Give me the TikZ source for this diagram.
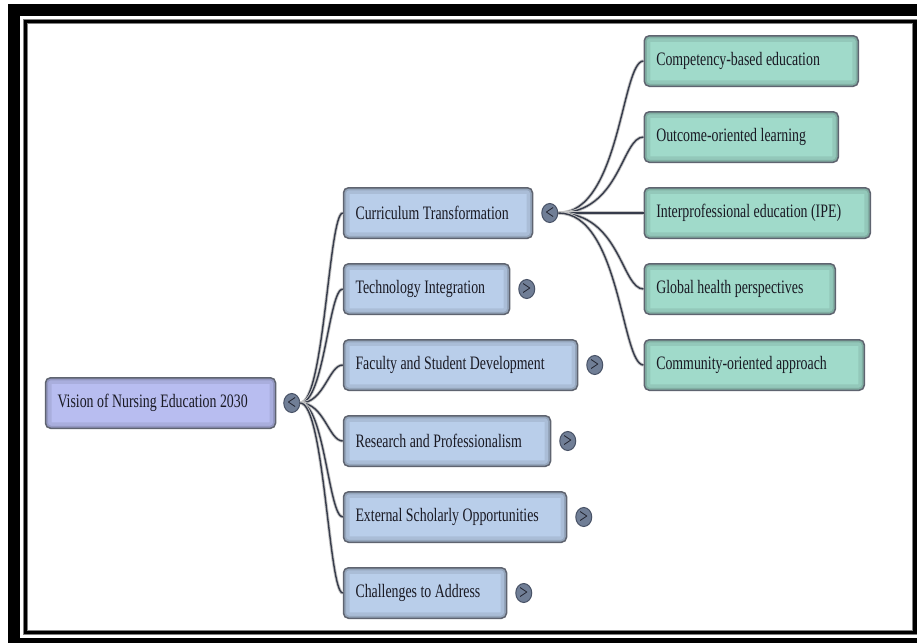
\documentclass[tikz,border=0pt]{standalone}
\usepackage{fontspec}
\setmainfont[FakeStretch=0.73]{Liberation Serif}
\usepackage{tikz}
\usetikzlibrary{shapes.geometric}
\usetikzlibrary{positioning}

\definecolor{rootfill}{RGB}{184,189,240}
\definecolor{topicfill}{RGB}{185,206,234}
\definecolor{leaffill}{RGB}{160,218,202}
\definecolor{boxedge}{RGB}{95,100,112}
\definecolor{textdark}{RGB}{25,25,35}
\definecolor{linkdark}{RGB}{55,60,75}
\definecolor{togglefill}{RGB}{112,126,150}
\definecolor{toggleedge}{RGB}{72,82,102}

\newcommand{\mapfont}{\fontsize{19}{22}\selectfont}
\newcommand{\togglefont}{\fontsize{21}{21}\selectfont}

\tikzset{
	mapbox/.style={draw=boxedge, line width=1.5pt, rounded corners=5pt, anchor=west,
		minimum height=50.5pt, inner xsep=12pt, inner ysep=0pt, align=flush left,
		font=\mapfont, text=textdark,
		path picture={
			\draw[black, opacity=0.08, line width=12pt] (path picture bounding box.south west) rectangle (path picture bounding box.north east);
			\draw[black, opacity=0.12, line width=5pt] (path picture bounding box.south west) rectangle (path picture bounding box.north east);
		}},
	rootbox/.style={mapbox, fill=rootfill},
	topicbox/.style={mapbox, fill=topicfill},
	leafbox/.style={mapbox, fill=leaffill},
	toggle/.style={ellipse, draw=toggleedge, line width=1pt, fill=togglefill,
		minimum width=16pt, minimum height=19pt, inner sep=0pt,
		font=\togglefont, text=textdark},
	link/.style={draw=linkdark, line width=1.4pt,
		preaction={draw=gray!45, line width=3.2pt}}
}

\begin{document}
\begin{tikzpicture}[x=1pt,y=-1pt]
		\useasboundingbox (0,0) rectangle (917,643);
		\fill[white] (0,0) rectangle (917,643);
		\fill[black] (8,4) rectangle (917,643);
		\fill[white] (20,16) rectangle (917,638);
		\draw[gray, line width=5.5pt] (25.7,21.3) rectangle (915,632.7);
		\draw[black, line width=3.5pt] (25.7,21.3) rectangle (915,632.7);

		\node[rootbox, text width=206pt] (vision) at (44.75,403) {Vision of Nursing Education 2030};

		\node[topicbox, text width=165pt] (cur) at (342.75,213) {Curriculum Transformation};
		\node[topicbox, text width=142pt] (tech) at (342.75,289) {Technology Integration};
		\node[topicbox, text width=210pt] (fac) at (342.75,365) {Faculty and Student Development};
		\node[topicbox, text width=183pt] (res) at (342.75,441) {Research and Professionalism};
		\node[topicbox, text width=199pt] (ext) at (342.75,517) {External Scholarly Opportunities};
		\node[topicbox, text width=139pt] (chal) at (342.75,593) {Challenges to Address};

		\node[leafbox, text width=190pt] (comp) at (643.5,61) {Competency-based education};
		\node[leafbox, text width=170pt] (outc) at (643.5,137) {Outcome-oriented learning};
		\node[leafbox, text width=202pt] (ipe) at (643.5,213) {Interprofessional education (IPE)};
		\node[leafbox, text width=167pt] (glob) at (643.5,289) {Global health perspectives};
		\node[leafbox, text width=196pt] (comm) at (643.5,365) {Community-oriented approach};

		\node[toggle, right=7pt of vision] (visiontg) {<};
		\node[toggle, right=8pt of cur] (curtg) {<};
		\node[toggle, right=8pt of tech] (techtg) {>};
		\node[toggle, right=8pt of fac] (factg) {>};
		\node[toggle, right=8pt of res] (restg) {>};
		\node[toggle, right=8pt of ext] (exttg) {>};
		\node[toggle, right=8pt of chal] (chaltg) {>};

		\foreach \n in {cur,tech,fac,res,ext,chal}
			\draw[link] (visiontg.east) .. controls +(24,0) and +(-14,0) .. (\n.west);
		\foreach \n in {comp,outc,ipe,glob,comm}
			\draw[link] (curtg.east) .. controls +(62,0) and +(-22,0) .. (\n.west);
\end{tikzpicture}
\end{document}
